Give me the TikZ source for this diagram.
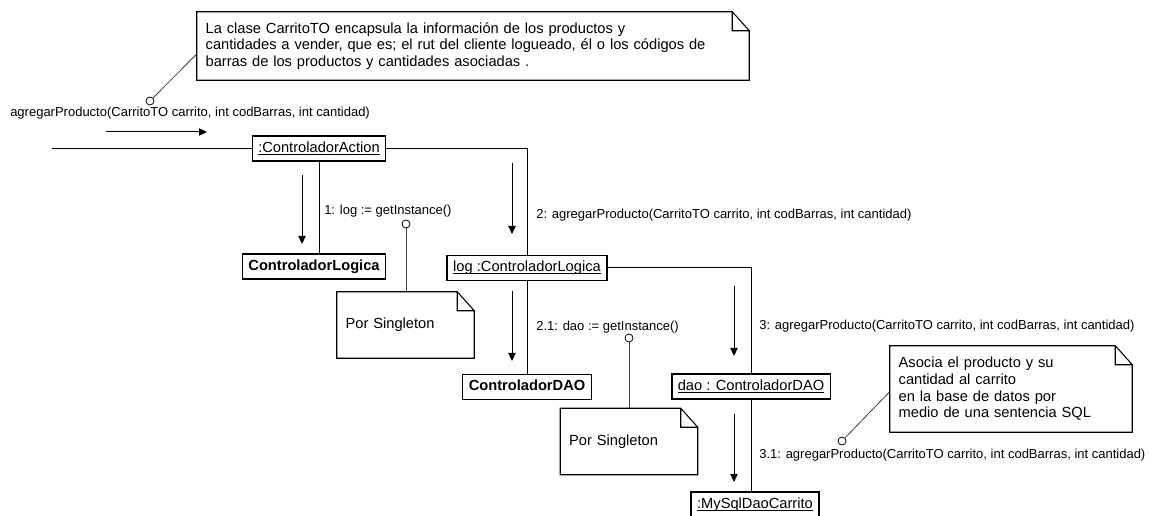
\documentclass[tikz,border=0pt]{standalone}
\usepackage{fontspec}
\setmainfont{Liberation Sans}
\usetikzlibrary{positioning, arrows.meta, calc}
% underlined object name, rule a little below the baseline
\newcommand{\uname}[1]{\setbox0\hbox{#1}\rlap{\rule[-1.8pt]{\wd0}{0.55pt}}\box0}
\tikzset{
    x=0.75pt, y=-0.75pt, % one unit per pixel, y runs downwards
    obj/.style={ % object boxes
        draw,
        line width=1.1pt,
        minimum height=18.75pt,
        text height=8pt, text depth=2.5pt,
        inner xsep=4.5pt,
        font=\fontsize{11}{13}\selectfont
    },
    cls/.style={obj, font=\fontsize{11}{13}\selectfont\bfseries}, % class boxes
    msgtext/.style={anchor=west, inner sep=0pt, font=\fontsize{9.75}{12}\selectfont},
    msg/.style={-{Triangle[length=6pt,width=5.5pt]}, line width=0.75pt},
    elbow/.style={to path={-| (\tikztotarget)}},
    every edge/.style={ % links between objects
        draw,
        line width=0.75pt
    },
    note/.style={align=left, inner xsep=6.5pt, inner ysep=0pt, font=\fontsize{11}{12.5}\selectfont},
    noteline/.style={line width=0.8pt},
    pin/.style={circle, draw, line width=0.6pt, fill=white, minimum size=6pt, inner sep=0pt},
    pinline/.style={draw=black!75, line width=0.6pt},
}

\begin{document}
\begin{tikzpicture}
    \useasboundingbox (0,0) rectangle (1149,516);

    % objects and classes
    \node[obj] (act)    at (319,148.5) {\uname{:ControladorAction}};
    \node[cls] (logcls) at (314,266.5) {ControladorLogica};
    \node[obj] (logobj) at (527,268)   {\uname{log :ControladorLogica}};
    \node[cls] (daocls) at (527,387)   {ControladorDAO};
    \node[obj] (daoobj) at (751,386.5) {\uname{dao : ControladorDAO}};
    \node[obj] (mysql)  at (755,504.5) {\uname{:MySqlDaoCarrito}};
    \coordinate (start) at (52,148.5);

    \draw   (start)     edge                (act)
            (act)       edge                (act.south |- logcls.north)
            (act)       edge[elbow]         (logobj)
            (logobj)    edge                (logobj.south |- daocls.north)
            (logobj)    edge[elbow]         (daoobj)
            (daoobj)    edge                (daoobj.south |- mysql.north)
    ;

    % messages
    \coordinate (m0a) at (106,132);  \coordinate (m0b) at (207,132);
    \coordinate (m1a) at (302,175);  \coordinate (m1b) at (302,244);
    \coordinate (m2a) at (512,163);  \coordinate (m2b) at (512,234);
    \coordinate (m21a) at (512,291); \coordinate (m21b) at (512,361);
    \coordinate (m3a) at (734,286);  \coordinate (m3b) at (734,356);
    \coordinate (m31a) at (734,414); \coordinate (m31b) at (734,482);
    \foreach \a/\b in {m0a/m0b, m1a/m1b, m2a/m2b, m21a/m21b, m3a/m3b, m31a/m31b}
        \draw[msg] (\a) -- (\b);

    \node[msgtext] (lbl0)  at (10,113)  {agregarProducto(CarritoTO carrito, int codBarras, int cantidad)};
    \node[msgtext] (lbl1)  at (324,211) {1: log := getInstance()};
    \node[msgtext] (lbl2)  at (536,215) {2: agregarProducto(CarritoTO carrito, int codBarras, int cantidad)};
    \node[msgtext] (lbl21) at (536,327) {2.1: dao := getInstance()};
    \node[msgtext] (lbl3)  at (759,326) {3: agregarProducto(CarritoTO carrito, int codBarras, int cantidad)};
    \node[msgtext] (lbl31) at (759,455) {3.1: agregarProducto(CarritoTO carrito, int codBarras, int cantidad)};

    % notes
    \node[note, text width=401pt, minimum height=51pt] (topnote) at (473,46)
        {La clase CarritoTO encapsula la información de los productos y\\
         cantidades a vender, que es; el rut del cliente logueado, él o los códigos de\\
         barras de los productos y cantidades asociadas .};
    \node[note, text width=89.75pt, minimum height=49.5pt] (single1) at (405.5,325)   {Por Singleton};
    \node[note, text width=89.75pt, minimum height=49.5pt] (single2) at (629,441.5)   {Por Singleton};
    \node[note, text width=168.5pt, minimum height=64.5pt] (sqlnote) at (1011,389)
        {Asocia el producto y su\\ cantidad al carrito\\ en la base de datos por\\ medio de una sentencia SQL};

    \foreach \n in {topnote, single1, single2, sqlnote}
        \draw[noteline] (\n.north west) -- ([xshift=-12.75pt]\n.north east)
            -- ([yshift=-14.25pt]\n.north east) -- (\n.south east) -- (\n.south west) -- cycle
            ([xshift=-12.75pt]\n.north east) |- ([yshift=-14.25pt]\n.north east);

    % anchors of the notes
    \node[pin] (c0) at (150,101) {};
    \node[pin] (c1) at (406,224) {};
    \node[pin] (c2) at (629,338) {};
    \node[pin] (c3) at (842,441) {};
    \draw[pinline] (c0) -- ([yshift=-6pt]topnote.west);
    \draw[pinline] (c1) -- (c1 |- single1.north);
    \draw[pinline] (c2) -- (c2 |- single2.north);
    \draw[pinline] (c3) -- ([yshift=-2pt]sqlnote.west);
\end{tikzpicture}
\end{document}
